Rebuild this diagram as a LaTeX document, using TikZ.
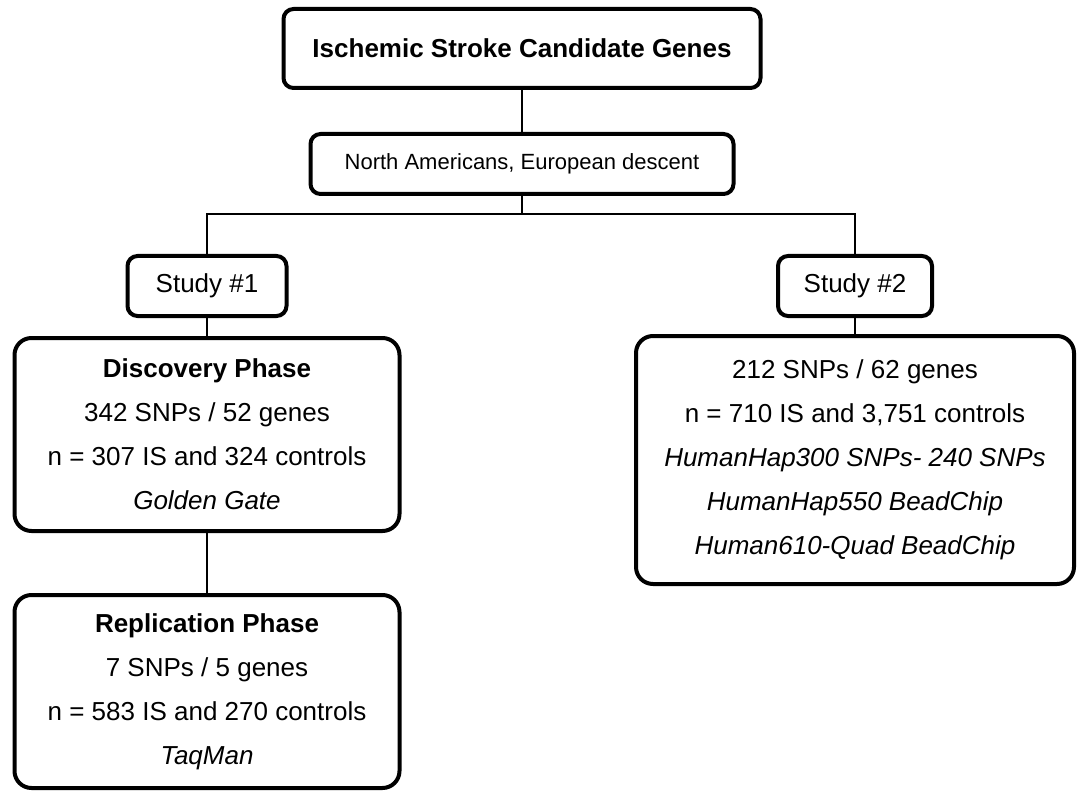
\documentclass[tikz,border=0pt]{standalone}
\usepackage{fontspec}
\setmainfont{Liberation Sans}
\usetikzlibrary{positioning}

\begin{document}
\begin{tikzpicture}[
        x=1pt, y=1pt,
        box/.style={draw, line width=4pt, rounded corners=10pt, align=center, inner sep=0pt, minimum height=60pt, font=\fontsize{26}{44}\selectfont},
        phase/.style={box, rounded corners=17pt},
        link/.style={line width=2pt}
    ]
    \useasboundingbox (0,0) rectangle (1078,-794);

    % Kopf
    \node[box, minimum width=477pt, minimum height=79pt, font=\fontsize{26}{44}\selectfont\bfseries] (genes) at (522,-48.5) {Ischemic Stroke Candidate Genes};
    \node[box, minimum width=423pt, font=\fontsize{22}{30}\selectfont, below=42pt of genes] (pop) {North Americans, European descent};
    \coordinate[below=18pt of pop] (split);

    % Studien
    \node[box, minimum width=159pt] (study1) at (207,-286) {Study \#1};
    \node[box, minimum width=154pt] (study2) at (855,-286) {Study \#2};

    % Study 1
    \node[phase, minimum width=385pt, minimum height=193pt, below=18pt of study1] (disc) {\textbf{Discovery Phase}\\342 SNPs / 52 genes\\n = 307 IS and 324 controls\\\textit{Golden Gate}};
    \node[phase, minimum width=385pt, minimum height=193pt, below=60pt of disc] (repl) {\textbf{Replication Phase}\\7 SNPs / 5 genes\\n = 583 IS and 270 controls\\\textit{TaqMan}};

    % Study 2
    \node[phase, minimum width=438pt, minimum height=248pt, below=16pt of study2] (chips) {212 SNPs / 62 genes\\n = 710 IS and 3,751 controls\\\textit{HumanHap300 SNPs- 240 SNPs}\\\textit{HumanHap550 BeadChip}\\\textit{Human610-Quad BeadChip}};

    % Verbindungen
    \draw[link] (genes) -- (pop);
    \draw[link] (pop) -- (split);
    \draw[link] (study1) |- (split) -| (study2);
    \draw[link] (study1) -- (disc);
    \draw[link] (disc) -- (repl);
    \draw[link] (study2) -- (chips);

\end{tikzpicture}
\end{document}
